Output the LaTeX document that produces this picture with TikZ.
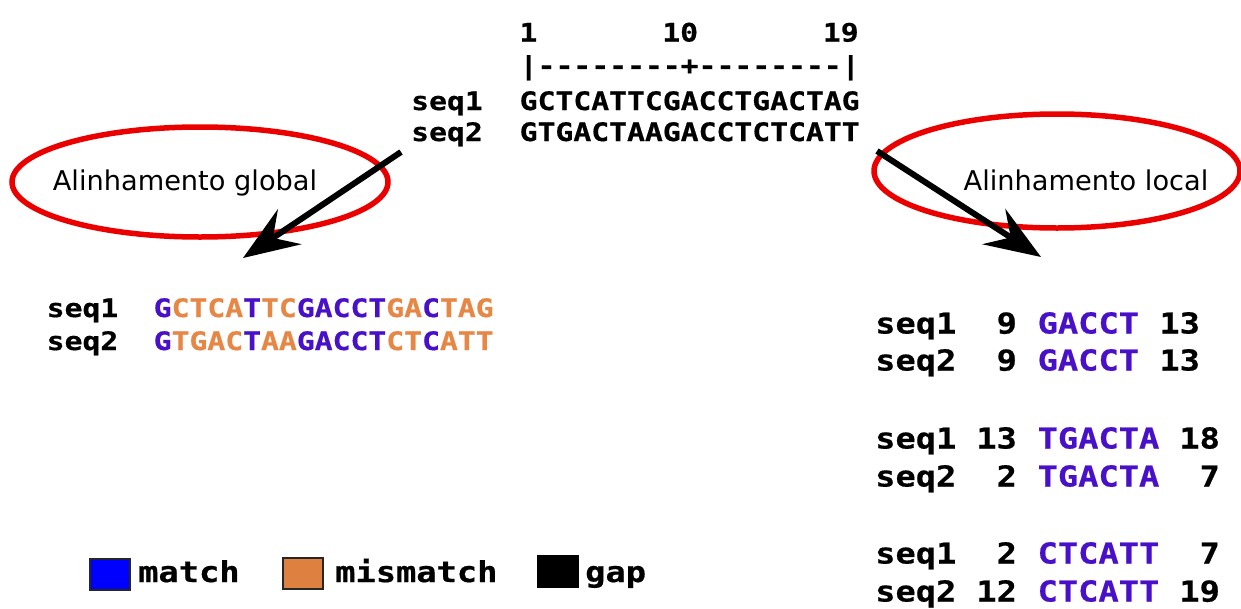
\documentclass[tikz,border=0pt]{standalone}
\usepackage{fontspec}
\usetikzlibrary{shapes.geometric,arrows.meta}
\newfontfamily\sqf[FakeStretch=1.17,FakeBold=0.6]{DejaVu Sans Mono}
\newfontfamily\lblf{DejaVu Sans}
\definecolor{mcol}{RGB}{72,16,200}
\definecolor{xcol}{RGB}{230,135,70}
\definecolor{ellred}{RGB}{235,0,0}
\definecolor{legblue}{RGB}{0,0,255}
\definecolor{legor}{RGB}{222,128,64}
\newcommand\Mc[1]{\textcolor{mcol}{#1}}
\newcommand\Xc[1]{\textcolor{xcol}{#1}}
\begin{document}
\begin{tikzpicture}[x=1pt,y=-1pt,
  smalltxt/.style={inner sep=0pt, font=\sqf\bfseries\fontsize{25.4}{25.4}\selectfont, anchor=base west},
  bigtxt/.style={inner sep=0pt, font=\sqf\bfseries\fontsize{28.8}{28.8}\selectfont, anchor=base west},
  elltxt/.style={inner sep=0pt, font=\lblf\fontsize{27.2}{27.2}\selectfont, anchor=base},
  ellbox/.style={draw=ellred, line width=5.5pt, ellipse, inner sep=0pt},
  bigarrow/.style={line width=6pt, -{Stealth[length=56pt,width=42pt,inset=20pt]}},
  legbox/.style={draw=black!85, line width=2pt, inner sep=0pt, minimum width=40pt, minimum height=31pt}
]
\useasboundingbox (0,0) rectangle (1241,608);

% ---- top: the two input sequences ----
\node[smalltxt, anchor=base] (n1)  at (528.4,41.5) {1};
\node[smalltxt, anchor=base] (n10) at (680.2,41.5) {10};
\node[smalltxt, anchor=base] (n19) at (840.8,41.5) {19};
\node[smalltxt] (ruler) at (519.5,74.5) {|--------+--------|};
\node[smalltxt] (tl1) at (411,110) {seq1};
\node[smalltxt] (ts1) at (519.5,110) {GCTCATTCGACCTGACTAG};
\node[smalltxt] (tl2) at (411,141) {seq2};
\node[smalltxt] (ts2) at (519.5,141) {GTGACTAAGACCTCTCATT};

% ---- ellipses with captions ----
\node[ellbox, minimum width=376pt, minimum height=110pt] (gell) at (200,182) {};
\node[elltxt] (gcap) at (185,190) {Alinhamento global};
\node[ellbox, minimum width=366pt, minimum height=114pt] (lell) at (1057,171) {};
\node[elltxt] (lcap) at (1086,190) {Alinhamento local};

% ---- arrows ----
\coordinate (gS) at (401,152);
\coordinate (gE) at (243,258);
\coordinate (lS) at (877,151);
\coordinate (lE) at (1041,257);
\draw[bigarrow] (gS) -- (gE);
\draw[bigarrow] (lS) -- (lE);

% ---- global alignment ----
\node[smalltxt] (gl1) at (46.5,317) {seq1};
\node[smalltxt] (gs1) at (153.5,317) {\Mc{G}\Xc{CTCA}\Mc{T}\Xc{TC}\Mc{GACCT}\Xc{GA}\Mc{C}\Xc{TAG}};
\node[smalltxt] (gl2) at (46.5,350) {seq2};
\node[smalltxt] (gs2) at (153.5,350) {\Mc{G}\Xc{TGAC}\Mc{T}\Xc{AA}\Mc{GACCT}\Xc{CT}\Mc{C}\Xc{ATT}};

% ---- local alignments ----
\node[bigtxt] (a1l) at (875,333.5) {seq1};
\node[bigtxt, anchor=base east] (a1a) at (1017.1,333.5) {9};
\node[bigtxt, text=mcol] (a1s) at (1037.4,333.5) {GACCT};
\node[bigtxt] (a1b) at (1159.2,333.5) {13};

\node[bigtxt] (a2l) at (875,370.5) {seq2};
\node[bigtxt, anchor=base east] (a2a) at (1017.1,370.5) {9};
\node[bigtxt, text=mcol] (a2s) at (1037.4,370.5) {GACCT};
\node[bigtxt] (a2b) at (1159.2,370.5) {13};

\node[bigtxt] (b1l) at (875,448.5) {seq1};
\node[bigtxt, anchor=base east] (b1a) at (1017.1,448.5) {13};
\node[bigtxt, text=mcol] (b1s) at (1037.4,448.5) {TGACTA};
\node[bigtxt, anchor=base east] (b1b) at (1220.1,448.5) {18};

\node[bigtxt] (b2l) at (875,486.5) {seq2};
\node[bigtxt, anchor=base east] (b2a) at (1017.1,486.5) {2};
\node[bigtxt, text=mcol] (b2s) at (1037.4,486.5) {TGACTA};
\node[bigtxt, anchor=base east] (b2b) at (1220.1,486.5) {7};

\node[bigtxt] (c1l) at (875,563.5) {seq1};
\node[bigtxt, anchor=base east] (c1a) at (1017.1,563.5) {2};
\node[bigtxt, text=mcol] (c1s) at (1037.4,563.5) {CTCATT};
\node[bigtxt, anchor=base east] (c1b) at (1220.1,563.5) {7};

\node[bigtxt] (c2l) at (875,601.5) {seq2};
\node[bigtxt, anchor=base east] (c2a) at (1017.1,601.5) {12};
\node[bigtxt, text=mcol] (c2s) at (1037.4,601.5) {CTCATT};
\node[bigtxt, anchor=base east] (c2b) at (1220.1,601.5) {19};

% ---- legend ----
\node[legbox, fill=legblue] (kblue) at (110,574) {};
\node[bigtxt] (kmatch) at (138,582) {match};
\node[legbox, fill=legor] (korange) at (303,573.5) {};
\node[bigtxt] (kmis) at (335,582) {mismatch};
\node[legbox, fill=black, draw=black] (kblack) at (557.5,571.5) {};
\node[bigtxt] (kgap) at (585,582) {gap};
\end{tikzpicture}
\end{document}
